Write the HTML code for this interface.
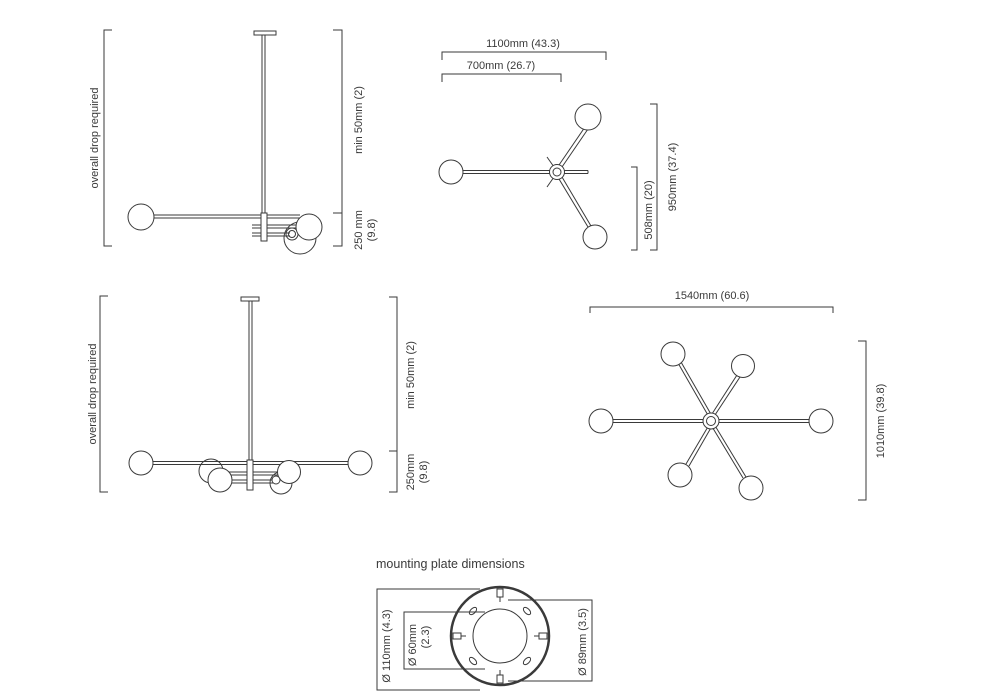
<!DOCTYPE html>
<html><head><meta charset="utf-8"><style>
html,body{margin:0;padding:0;background:#fff;}
svg{display:block;}
text{font-family:"Liberation Sans",sans-serif;fill:#3a3a3a;font-size:11px;}
</style></head><body>
<svg width="1000" height="700" viewBox="0 0 1000 700" xmlns="http://www.w3.org/2000/svg">
<g fill="none" stroke="#3a3a3a" stroke-width="1">
<!-- Panel 1 -->
<polyline points="112,30 104,30 104,246 112,246"/>
<rect x="254" y="31" width="22" height="4" fill="#fff"/>
<line x1="262" y1="35" x2="262" y2="213"/><line x1="265" y1="35" x2="265" y2="213"/>
<circle cx="300" cy="238" r="16" fill="#fff"/>
<circle cx="292" cy="234" r="6" fill="#fff"/><circle cx="292" cy="234" r="3.5"/>
<line x1="153" y1="215" x2="300" y2="215"/><line x1="153" y1="218" x2="300" y2="218"/>
<circle cx="141" cy="217" r="13" fill="#fff"/>
<circle cx="309" cy="227" r="13" fill="#fff"/>
<line x1="252" y1="225" x2="296" y2="225"/><line x1="252" y1="228" x2="296" y2="228"/>
<line x1="252" y1="233" x2="290" y2="233"/><line x1="252" y1="236" x2="290" y2="236"/>
<rect x="261" y="213" width="6" height="28" fill="#fff"/>
<polyline points="333,30 342,30 342,246 333,246"/>
<line x1="333" y1="213" x2="342" y2="213"/>
<!-- Panel 2 -->
<polyline points="442,60 442,52 606,52 606,60"/>
<polyline points="442,82 442,74 561,74 561,82"/>
<line x1="462" y1="170.5" x2="552" y2="170.5"/><line x1="462" y1="173.5" x2="552" y2="173.5"/>
<line x1="562" y1="170.5" x2="588" y2="170.5"/><line x1="562" y1="173.5" x2="588" y2="173.5"/><line x1="588" y1="170.5" x2="588" y2="173.5"/>
<line x1="559" y1="165" x2="585" y2="127"/><line x1="562" y1="167" x2="588" y2="129"/>
<line x1="559" y1="179" x2="588" y2="227"/><line x1="562" y1="177" x2="591" y2="226"/>
<line x1="547" y1="157" x2="554" y2="167"/><line x1="547" y1="187" x2="554" y2="177"/>
<circle cx="557" cy="172" r="7.5" fill="#fff"/><circle cx="557" cy="172" r="4"/>
<circle cx="451" cy="172" r="12" fill="#fff"/>
<circle cx="588" cy="117" r="13" fill="#fff"/>
<circle cx="595" cy="237" r="12" fill="#fff"/>
<polyline points="631,167 637,167 637,250 631,250"/>
<polyline points="650,104 657,104 657,250 650,250"/>
<!-- Panel 3 -->
<polyline points="108,296 100,296 100,492 108,492"/>
<rect x="241" y="297" width="18" height="4" fill="#fff"/>
<line x1="249" y1="301" x2="249" y2="460"/><line x1="252" y1="301" x2="252" y2="460"/>
<circle cx="211" cy="471" r="12" fill="#fff"/>
<circle cx="281" cy="483" r="11" fill="#fff"/>
<line x1="152" y1="461.5" x2="348" y2="461.5"/><line x1="152" y1="464.5" x2="348" y2="464.5"/>
<line x1="225" y1="472" x2="280" y2="472"/><line x1="225" y1="475" x2="280" y2="475"/>
<line x1="230" y1="480" x2="276" y2="480"/><line x1="230" y1="483" x2="276" y2="483"/>
<circle cx="141" cy="463" r="12" fill="#fff"/>
<circle cx="360" cy="463" r="12" fill="#fff"/>
<circle cx="220" cy="480" r="12" fill="#fff"/>
<circle cx="289" cy="472" r="11.5" fill="#fff"/>
<circle cx="276" cy="480" r="4" fill="#fff"/>
<rect x="247" y="460" width="6" height="30" fill="#fff"/>
<polyline points="389,297 397,297 397,492 389,492"/>
<line x1="389" y1="451" x2="397" y2="451"/>
<!-- Panel 4 -->
<polyline points="590,313 590,307 833,307 833,313"/>
<line x1="612" y1="419.5" x2="810" y2="419.5"/><line x1="612" y1="422.5" x2="810" y2="422.5"/>
<line x1="678" y1="363" x2="709" y2="417"/><line x1="681" y1="362" x2="712" y2="416"/>
<line x1="737" y1="375" x2="710" y2="417"/><line x1="740" y1="377" x2="713" y2="418"/>
<line x1="686" y1="464" x2="709" y2="425"/><line x1="689" y1="466" x2="712" y2="426"/>
<line x1="743" y1="478" x2="711" y2="425"/><line x1="746" y1="477" x2="714" y2="424"/>
<circle cx="711" cy="421" r="8" fill="#fff"/><circle cx="711" cy="421" r="4.5"/>
<circle cx="601" cy="421" r="12" fill="#fff"/>
<circle cx="821" cy="421" r="12" fill="#fff"/>
<circle cx="673" cy="354" r="12" fill="#fff"/>
<circle cx="743" cy="366" r="11.5" fill="#fff"/>
<circle cx="680" cy="475" r="12" fill="#fff"/>
<circle cx="751" cy="488" r="12" fill="#fff"/>
<polyline points="858,341 866,341 866,500 858,500"/>
<!-- Panel 5 -->
<polyline points="480,589 377,589 377,690 480,690"/>
<polyline points="485,612 404,612 404,669 485,669"/>
<polyline points="508,600 592,600 592,681 508,681"/>
<circle cx="500" cy="636" r="49" stroke-width="2.5"/>
<circle cx="500" cy="636" r="27"/>
<g transform="translate(500,636)">
<rect x="-3" y="-47" width="6" height="8" fill="#fff"/><line x1="0" y1="-39" x2="0" y2="-34"/>
<rect x="-3" y="39" width="6" height="8" fill="#fff"/><line x1="0" y1="34" x2="0" y2="39"/>
<rect x="-47" y="-3" width="8" height="6" fill="#fff"/><line x1="-39" y1="0" x2="-34" y2="0"/>
<rect x="39" y="-3" width="8" height="6" fill="#fff"/><line x1="34" y1="0" x2="39" y2="0"/>
<ellipse cx="-27" cy="-25" rx="2.5" ry="4.5" transform="rotate(45 -27 -25)"/>
<ellipse cx="27" cy="-25" rx="2.5" ry="4.5" transform="rotate(-45 27 -25)"/>
<ellipse cx="-27" cy="25" rx="2.5" ry="4.5" transform="rotate(-45 -27 25)"/>
<ellipse cx="27" cy="25" rx="2.5" ry="4.5" transform="rotate(45 27 25)"/>
</g>
</g>
<!-- Texts -->
<text transform="translate(98,138) rotate(-90)" text-anchor="middle">overall drop required</text>
<text transform="translate(362,120) rotate(-90)" text-anchor="middle">min 50mm (2)</text>
<text transform="translate(362,230) rotate(-90)" text-anchor="middle">250 mm</text>
<text transform="translate(375,230) rotate(-90)" text-anchor="middle">(9.8)</text>
<text x="523" y="47" text-anchor="middle">1100mm (43.3)</text>
<text x="501" y="69" text-anchor="middle">700mm (26.7)</text>
<text transform="translate(652,210) rotate(-90)" text-anchor="middle">508mm (20)</text>
<text transform="translate(676,177) rotate(-90)" text-anchor="middle">950mm (37.4)</text>
<text transform="translate(96,394) rotate(-90)" text-anchor="middle">overall drop required</text>
<text transform="translate(414,375) rotate(-90)" text-anchor="middle">min 50mm (2)</text>
<text transform="translate(414,472) rotate(-90)" text-anchor="middle">250mm</text>
<text transform="translate(427,472) rotate(-90)" text-anchor="middle">(9.8)</text>
<text x="712" y="299" text-anchor="middle">1540mm (60.6)</text>
<text transform="translate(884,421) rotate(-90)" text-anchor="middle">1010mm (39.8)</text>
<text x="376" y="568" style="font-size:12.5px">mounting plate dimensions</text>
<text transform="translate(390,646) rotate(-90)" text-anchor="middle">Ø 110mm (4.3)</text>
<text transform="translate(416,645) rotate(-90)" text-anchor="middle">Ø 60mm</text>
<text transform="translate(429,637) rotate(-90)" text-anchor="middle">(2.3)</text>
<text transform="translate(586,642) rotate(-90)" text-anchor="middle">Ø 89mm (3.5)</text>
</svg>
</body></html>
